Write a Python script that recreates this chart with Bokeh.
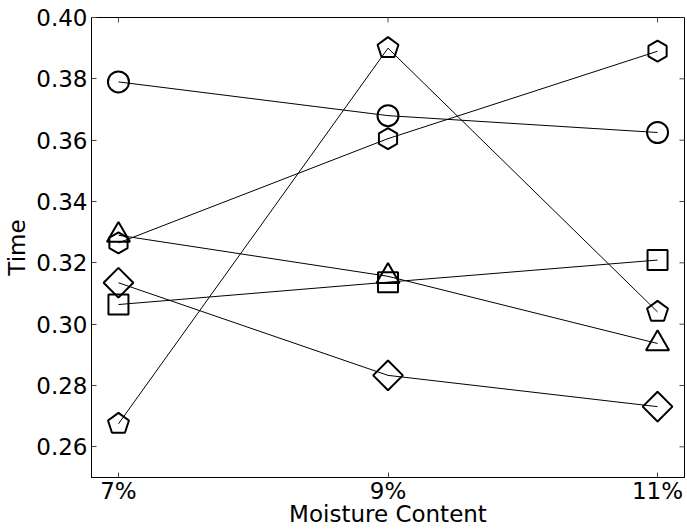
import math
from bokeh.plotting import figure
from bokeh.models import FixedTicker, Range1d, NumeralTickFormatter
from bokeh.embed import file_html
from bokeh.resources import INLINE

# ---- data ----
moisture_labels = ["7%", "9%", "11%"]
moisture = [7, 9, 11]
circle_vals = [0.379, 0.368, 0.3625]
hexagon_vals = [0.3265, 0.3605, 0.389]
pentagon_vals = [0.2675, 0.390, 0.304]
triangle_vals = [0.329, 0.3156, 0.2937]
square_vals = [0.3064, 0.3137, 0.3209]
diamond_vals = [0.3135, 0.2833, 0.2731]
y_ticks = [0.26, 0.28, 0.30, 0.32, 0.34, 0.36, 0.38, 0.40]
x_min, x_max = 6.8, 11.2
y_min, y_max = 0.25, 0.40

FONT = "DejaVu Sans"
FS = "23px"

p = figure(width=687, height=529, x_range=Range1d(x_min, x_max), y_range=Range1d(y_min, y_max),
           output_backend="svg", toolbar_location=None,
           min_border_left=91, min_border_right=3, min_border_top=17, min_border_bottom=51,
           background_fill_color="white", border_fill_color="white")
p.grid.visible = False
p.outline_line_color = "black"
p.outline_line_width = 1


def style_axis(ax):
    ax.axis_line_color = "black"
    ax.axis_line_width = 1
    ax.major_tick_in = 5
    ax.major_tick_out = 0
    ax.major_tick_line_color = "#444444"
    ax.major_tick_line_width = 1
    ax.minor_tick_line_color = None
    ax.major_label_text_font = FONT
    ax.major_label_text_color = "black"
    ax.major_label_text_font_size = FS
    ax.axis_label_text_font = FONT
    ax.axis_label_text_font_size = FS
    ax.axis_label_text_font_style = "normal"
    ax.axis_label_text_color = "black"


xa = p.xaxis[0]
xa.ticker = FixedTicker(ticks=moisture)
xa.major_label_overrides = {m: lab for m, lab in zip(moisture, moisture_labels)}
xa.axis_label = "Moisture Content"
style_axis(xa)
xa.major_label_standoff = 0
xa.axis_label_standoff = -6

ya = p.yaxis[0]
ya.ticker = FixedTicker(ticks=y_ticks)
ya.formatter = NumeralTickFormatter(format="0.00")
ya.axis_label = "Time"
style_axis(ya)
ya.major_label_standoff = 4
ya.axis_label_standoff = 3

# mirrored ticks on the top and right edges (clipped to the frame, so only the inner half shows)
p.scatter(x=moisture, y=[y_max] * len(moisture), marker="dash", angle=math.pi / 2, size=10,
          line_color="#444444", line_width=1)
p.scatter(x=[x_max] * len(y_ticks), y=y_ticks, marker="dash", size=10,
          line_color="#444444", line_width=1)

# lines
for vals in [circle_vals, hexagon_vals, pentagon_vals, triangle_vals, square_vals, diamond_vals]:
    p.line(moisture, vals, line_color="black", line_width=1)

mk = dict(fill_color=None, line_color="black", line_width=2)
p.scatter(moisture, circle_vals, marker="circle", size=21, **mk)
p.scatter(moisture, hexagon_vals, marker="hex", size=21, angle=math.pi / 2, **mk)
p.scatter(moisture, triangle_vals, marker="triangle", size=23, **mk)
p.scatter(moisture, square_vals, marker="square", size=20, **mk)
p.scatter(moisture, diamond_vals, marker="square", size=21, angle=math.pi / 4, **mk)
p.ngon(x=moisture, y=pentagon_vals, radius=11, radius_units="screen", n=5, angle=0, **mk)

open("out.html", "w").write(file_html(p, INLINE))
